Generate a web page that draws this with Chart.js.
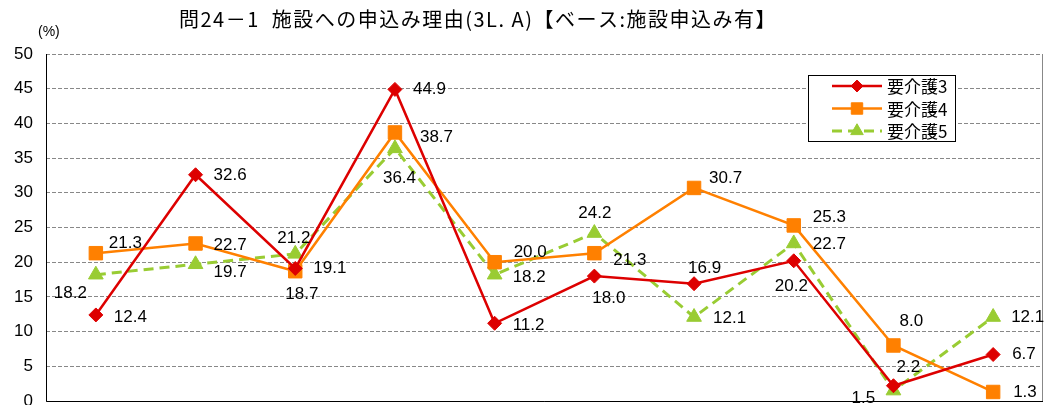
<!DOCTYPE html>
<html lang="ja">
<head>
<meta charset="utf-8">
<title>問24－1 施設への申込み理由</title>
<script src="https://cdn.jsdelivr.net/npm/chart.js@4.4.1/dist/chart.umd.min.js"></script>
<style>
  html, body { margin: 0; padding: 0; background: #fff; }
  #wrap { position: relative; width: 1052px; height: 405px; overflow: hidden; }
</style>
</head>
<body>
<div id="wrap"><canvas id="chart" width="1052" height="405"></canvas></div>
<script>
// ---- data ----
var chartTitle = '問24－1  施設への申込み理由(3L. A)【ベース:施設申込み有】';
var unitLabel = '(%)';
var categories = ['理由1', '理由2', '理由3', '理由4', '理由5', '理由6', '理由7', '理由8', '理由9', '理由10'];
var seriesNames = ['要介護3', '要介護4', '要介護5'];
var care3 = [12.4, 32.6, 19.1, 44.9, 11.2, 18.0, 16.9, 20.2, 2.2, 6.7];
var care4 = [21.3, 22.7, 18.7, 38.7, 20.0, 21.3, 30.7, 25.3, 8.0, 1.3];
var care5 = [18.2, 19.7, 21.2, 36.4, 18.2, 24.2, 12.1, 22.7, 1.5, 12.1];
var yMin = 0, yMax = 50, yStep = 5;

// value label offsets from each point (left edge of text, vertical middle)
var care3LabelPos = [[18, 2], [18, 1], [18, 0], [18, 0], [18, 2], [-2, 22], [-6, -15], [-19, 26], [3, -18], [19, 0]];
var care4LabelPos = [[13, -10], [18, 2], [-10, 23], [25, 5], [19, -10], [19, 7], [15, -10], [19, -8], [6, -24], [20, 0]];
var care5LabelPos = [[-42, 19], [18, 8], [-18, -16], [-12, 30], [18, 3], [-16, -20], [19, 1], [19, 1], [-42, 8], [18, 0]];

var RED = '#dd0000';
var ORANGE = '#ff8000';
var GREEN = '#99cc33';
var NUM_FONT = '17px "Liberation Sans", Arial, sans-serif';
var JP_FONT = '"Noto Sans CJK JP", "Noto Sans", sans-serif';

// ---- plugins ----
var frameAndTitle = {
    id: 'frameAndTitle',
    beforeDatasetsDraw: function(chart) {
        var ctx = chart.ctx, a = chart.chartArea;
        ctx.save();
        ctx.lineWidth = 1;
        ctx.strokeStyle = '#888';
        ctx.beginPath();
        ctx.moveTo(a.right - 0.5, a.top);
        ctx.lineTo(a.right - 0.5, a.bottom);
        ctx.stroke();
        ctx.strokeStyle = '#000';
        ctx.beginPath();
        ctx.moveTo(a.left + 0.5, a.top);
        ctx.lineTo(a.left + 0.5, a.bottom + 0.5);
        ctx.lineTo(a.right, a.bottom + 0.5);
        ctx.stroke();
        ctx.restore();
    },
    afterDraw: function(chart) {
        var ctx = chart.ctx;
        ctx.save();
        ctx.fillStyle = '#000';
        ctx.textBaseline = 'middle';
        ctx.textAlign = 'center';
        ctx.font = '20px ' + JP_FONT;
        ctx.letterSpacing = '1.5px';
        ctx.fillText(chartTitle, 478, 19);
        ctx.letterSpacing = '0px';
        ctx.textAlign = 'left';
        ctx.font = '14px "Liberation Sans", Arial, sans-serif';
        ctx.fillText(unitLabel, 38, 32);
        ctx.restore();
    }
};

var valueLabels = {
    id: 'valueLabels',
    afterDatasetsDraw: function(chart) {
        var ctx = chart.ctx;
        ctx.save();
        ctx.font = NUM_FONT;
        ctx.fillStyle = '#000';
        ctx.textAlign = 'left';
        ctx.textBaseline = 'middle';
        chart.data.datasets.forEach(function(ds, i) {
            var meta = chart.getDatasetMeta(i);
            meta.data.forEach(function(pt, j) {
                var off = ds.labelPos[j];
                ctx.fillText(ds.data[j].toFixed(1), pt.x + off[0], pt.y + off[1]);
            });
        });
        ctx.restore();
    }
};

// legend box drawn inside the plot, top right
var boxLegend = {
    id: 'boxLegend',
    afterDraw: function(chart) {
        var ctx = chart.ctx;
        var bx = 808, by = 75, bw = 147, bh = 66, rowH = 22.5;
        ctx.save();
        ctx.fillStyle = '#fff';
        ctx.fillRect(bx, by, bw, bh);
        ctx.strokeStyle = '#000';
        ctx.lineWidth = 1;
        ctx.strokeRect(bx + 0.5, by + 0.5, bw, bh);
        chart.data.datasets.forEach(function(ds, i) {
            var y = by + 11 + i * rowH;
            ctx.save();
            ctx.strokeStyle = ds.borderColor;
            ctx.lineWidth = ds.borderWidth;
            ctx.setLineDash(ds.borderDash || []);
            ctx.beginPath();
            ctx.moveTo(832, y);
            ctx.lineTo(882, y);
            ctx.stroke();
            ctx.restore();
            ctx.fillStyle = ds.pointBackgroundColor;
            ctx.strokeStyle = ds.pointBorderColor;
            Chart.helpers.drawPoint(ctx, {
                pointStyle: ds.pointStyle,
                radius: ds.pointRadius * 0.85,
                rotation: 0,
                borderWidth: 1
            }, 857, y);
            ctx.fillStyle = '#000';
            ctx.font = '17px ' + JP_FONT;
            ctx.textAlign = 'left';
            ctx.textBaseline = 'middle';
            ctx.fillText(ds.label, 887, y + 1);
        });
        ctx.restore();
    }
};

function lineSeries(label, data, color, style, radius, labelPos, dash) {
    return {
        label: label,
        data: data,
        borderColor: color,
        backgroundColor: color,
        borderWidth: dash ? 3 : 2.5,
        borderDash: dash || [],
        pointStyle: style,
        pointRadius: radius,
        pointHoverRadius: radius,
        pointBackgroundColor: color,
        pointBorderColor: color,
        pointBorderWidth: 1,
        tension: 0,
        fill: false,
        labelPos: labelPos
    };
}

new Chart(document.getElementById('chart'), {
    type: 'line',
    data: {
        labels: categories,
        datasets: [
            lineSeries(seriesNames[0], care3, RED, 'rectRot', 7, care3LabelPos),
            lineSeries(seriesNames[1], care4, ORANGE, 'rect', 9.5, care4LabelPos),
            lineSeries(seriesNames[2], care5, GREEN, 'triangle', 8.5, care5LabelPos, [10, 6])
        ]
    },
    options: {
        responsive: false,
        animation: false,
        layout: { autoPadding: false, padding: { top: 54, right: 9, bottom: 4, left: 0 } },
        scales: {
            x: {
                display: false,
                offset: true
            },
            y: {
                min: yMin,
                max: yMax,
                afterFit: function(scale) {
                    scale.width = 46;
                    scale.paddingTop = 0;
                    scale.paddingBottom = 0;
                },
                ticks: {
                    stepSize: yStep,
                    padding: 13,
                    color: '#000',
                    font: { family: '"Liberation Sans", Arial, sans-serif', size: 17 }
                },
                grid: { color: '#888', lineWidth: 1, drawTicks: false },
                border: { display: false, dash: [4, 2] }
            }
        },
        plugins: {
            legend: { display: false },
            title: { display: false },
            tooltip: { enabled: false }
        }
    },
    plugins: [frameAndTitle, valueLabels, boxLegend]
});
</script>
</body>
</html>
